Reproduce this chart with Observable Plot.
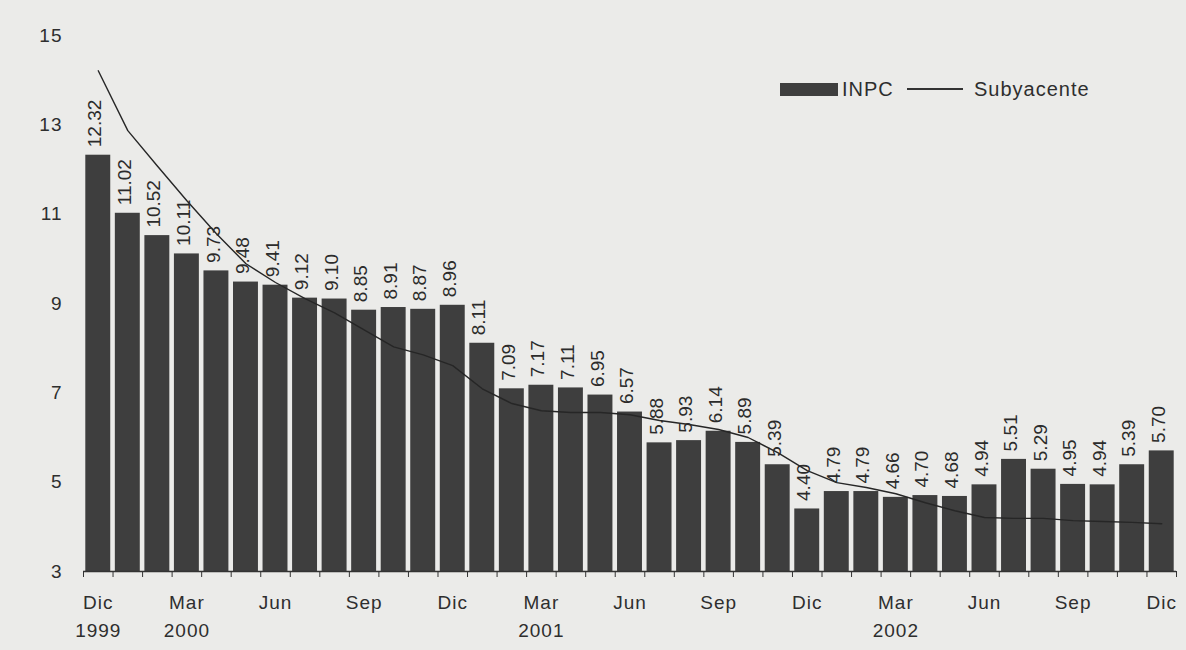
<!DOCTYPE html>
<html>
<head>
<meta charset="utf-8">
<script src="https://cdn.jsdelivr.net/npm/d3@7"></script>
<script src="https://cdn.jsdelivr.net/npm/@observablehq/plot@0.6"></script>
<style>
  body { margin: 0; background: #ebebe9; }
  #wrap { position: relative; width: 1186px; height: 650px; font-family: "Liberation Sans", Arial, sans-serif; color: #2e2e2e; }
  #wrap svg g[aria-label="x-axis tick label"] text,
  #wrap svg g[aria-label="y-axis tick label"] text { letter-spacing: 1px; }
  .lg { position: absolute; font-size: 20px; letter-spacing: 1px; line-height: 20px; }
</style>
</head>
<body>
<div id="wrap"></div>
<script>
// Months (Dic 1999 .. Dic 2002)
const months = ["Dic 1999","Ene 2000","Feb 2000","Mar 2000","Abr 2000","May 2000","Jun 2000","Jul 2000","Ago 2000","Sep 2000","Oct 2000","Nov 2000",
  "Dic 2000","Ene 2001","Feb 2001","Mar 2001","Abr 2001","May 2001","Jun 2001","Jul 2001","Ago 2001","Sep 2001","Oct 2001","Nov 2001",
  "Dic 2001","Ene 2002","Feb 2002","Mar 2002","Abr 2002","May 2002","Jun 2002","Jul 2002","Ago 2002","Sep 2002","Oct 2002","Nov 2002","Dic 2002"];

// INPC (bars)
const inpc = [12.32, 11.02, 10.52, 10.11, 9.73, 9.48, 9.41, 9.12, 9.10, 8.85, 8.91, 8.87,
  8.96, 8.11, 7.09, 7.17, 7.11, 6.95, 6.57, 5.88, 5.93, 6.14, 5.89, 5.39,
  4.40, 4.79, 4.79, 4.66, 4.70, 4.68, 4.94, 5.51, 5.29, 4.95, 4.94, 5.39, 5.70];

// Subyacente (line)
const subyacente = [14.21, 12.87, 12.08, 11.30, 10.56, 9.89, 9.47, 9.11, 8.79, 8.41, 8.03, 7.85,
  7.61, 7.09, 6.76, 6.60, 6.56, 6.56, 6.51, 6.38, 6.29, 6.18, 6.00, 5.66,
  5.26, 4.99, 4.88, 4.74, 4.54, 4.36, 4.21, 4.19, 4.19, 4.14, 4.12, 4.10, 4.07];

// x-axis labels
const tickIdx = [0, 3, 6, 9, 12, 15, 18, 21, 24, 27, 30, 33, 36];
const tickText = ["Dic\n1999", "Mar\n2000", "Jun", "Sep", "Dic", "Mar\n2001", "Jun", "Sep", "Dic", "Mar\n2002", "Jun", "Sep", "Dic"];
const yTicks = [3, 5, 7, 9, 11, 13, 15];

const rows = inpc.map((v, i) => ({i, month: months[i], inpc: v, sub: subyacente[i]}));
const boundaries = d3.range(-0.5, inpc.length, 1);

const chart = Plot.plot({
  width: 1186,
  height: 650,
  marginLeft: 83,
  marginRight: 10,
  marginTop: 35,
  marginBottom: 79,
  style: {fontFamily: "Liberation Sans, Arial, sans-serif", background: "transparent", color: "#2e2e2e"},
  x: {type: "linear", domain: [-0.5, inpc.length - 0.5]},
  y: {domain: [3, 15]},
  marks: [
    Plot.rectY(rows, {x1: d => d.i - 0.5, x2: d => d.i + 0.5, y1: 3, y2: "inpc", fill: "#3e3e3e", insetLeft: 2.3, insetRight: 2.3}),
    Plot.ruleY([3], {stroke: "#333", strokeWidth: 1.5}),
    Plot.line(rows, {x: "i", y: "sub", stroke: "#262626", strokeWidth: 1.4}),
    Plot.text(rows, {x: "i", y: "inpc", text: d => d.inpc.toFixed(2), rotate: -90, textAnchor: "start", dy: -8, dx: -3, fontSize: 19, fill: "#2b2b2b"}),
    Plot.axisY({ticks: yTicks, tickSize: 0, tickPadding: 21, fontSize: 19, label: null}),
    Plot.axisX({ticks: tickIdx, tickFormat: i => tickText[tickIdx.indexOf(i)], tickSize: 0, tickPadding: 17, fontSize: 19, lineHeight: 1.5, label: null}),
    Plot.axisX({ticks: boundaries, tickFormat: () => "", tickSize: 6, stroke: "#333", label: null})
  ]
});

const wrap = document.getElementById("wrap");
wrap.appendChild(chart);

// Legend
const sw = document.createElement("div");
sw.style.cssText = "position:absolute;left:780px;top:83px;width:58px;height:13px;background:#3e3e3e;";
wrap.appendChild(sw);
const t1 = document.createElement("div");
t1.className = "lg"; t1.textContent = "INPC";
t1.style.left = "842px"; t1.style.top = "79px";
wrap.appendChild(t1);
const ln = document.createElement("div");
ln.style.cssText = "position:absolute;left:907px;top:88px;width:56px;height:1.5px;background:#333;";
wrap.appendChild(ln);
const t2 = document.createElement("div");
t2.className = "lg"; t2.textContent = "Subyacente";
t2.style.left = "974px"; t2.style.top = "79px";
wrap.appendChild(t2);
</script>
</body>
</html>
